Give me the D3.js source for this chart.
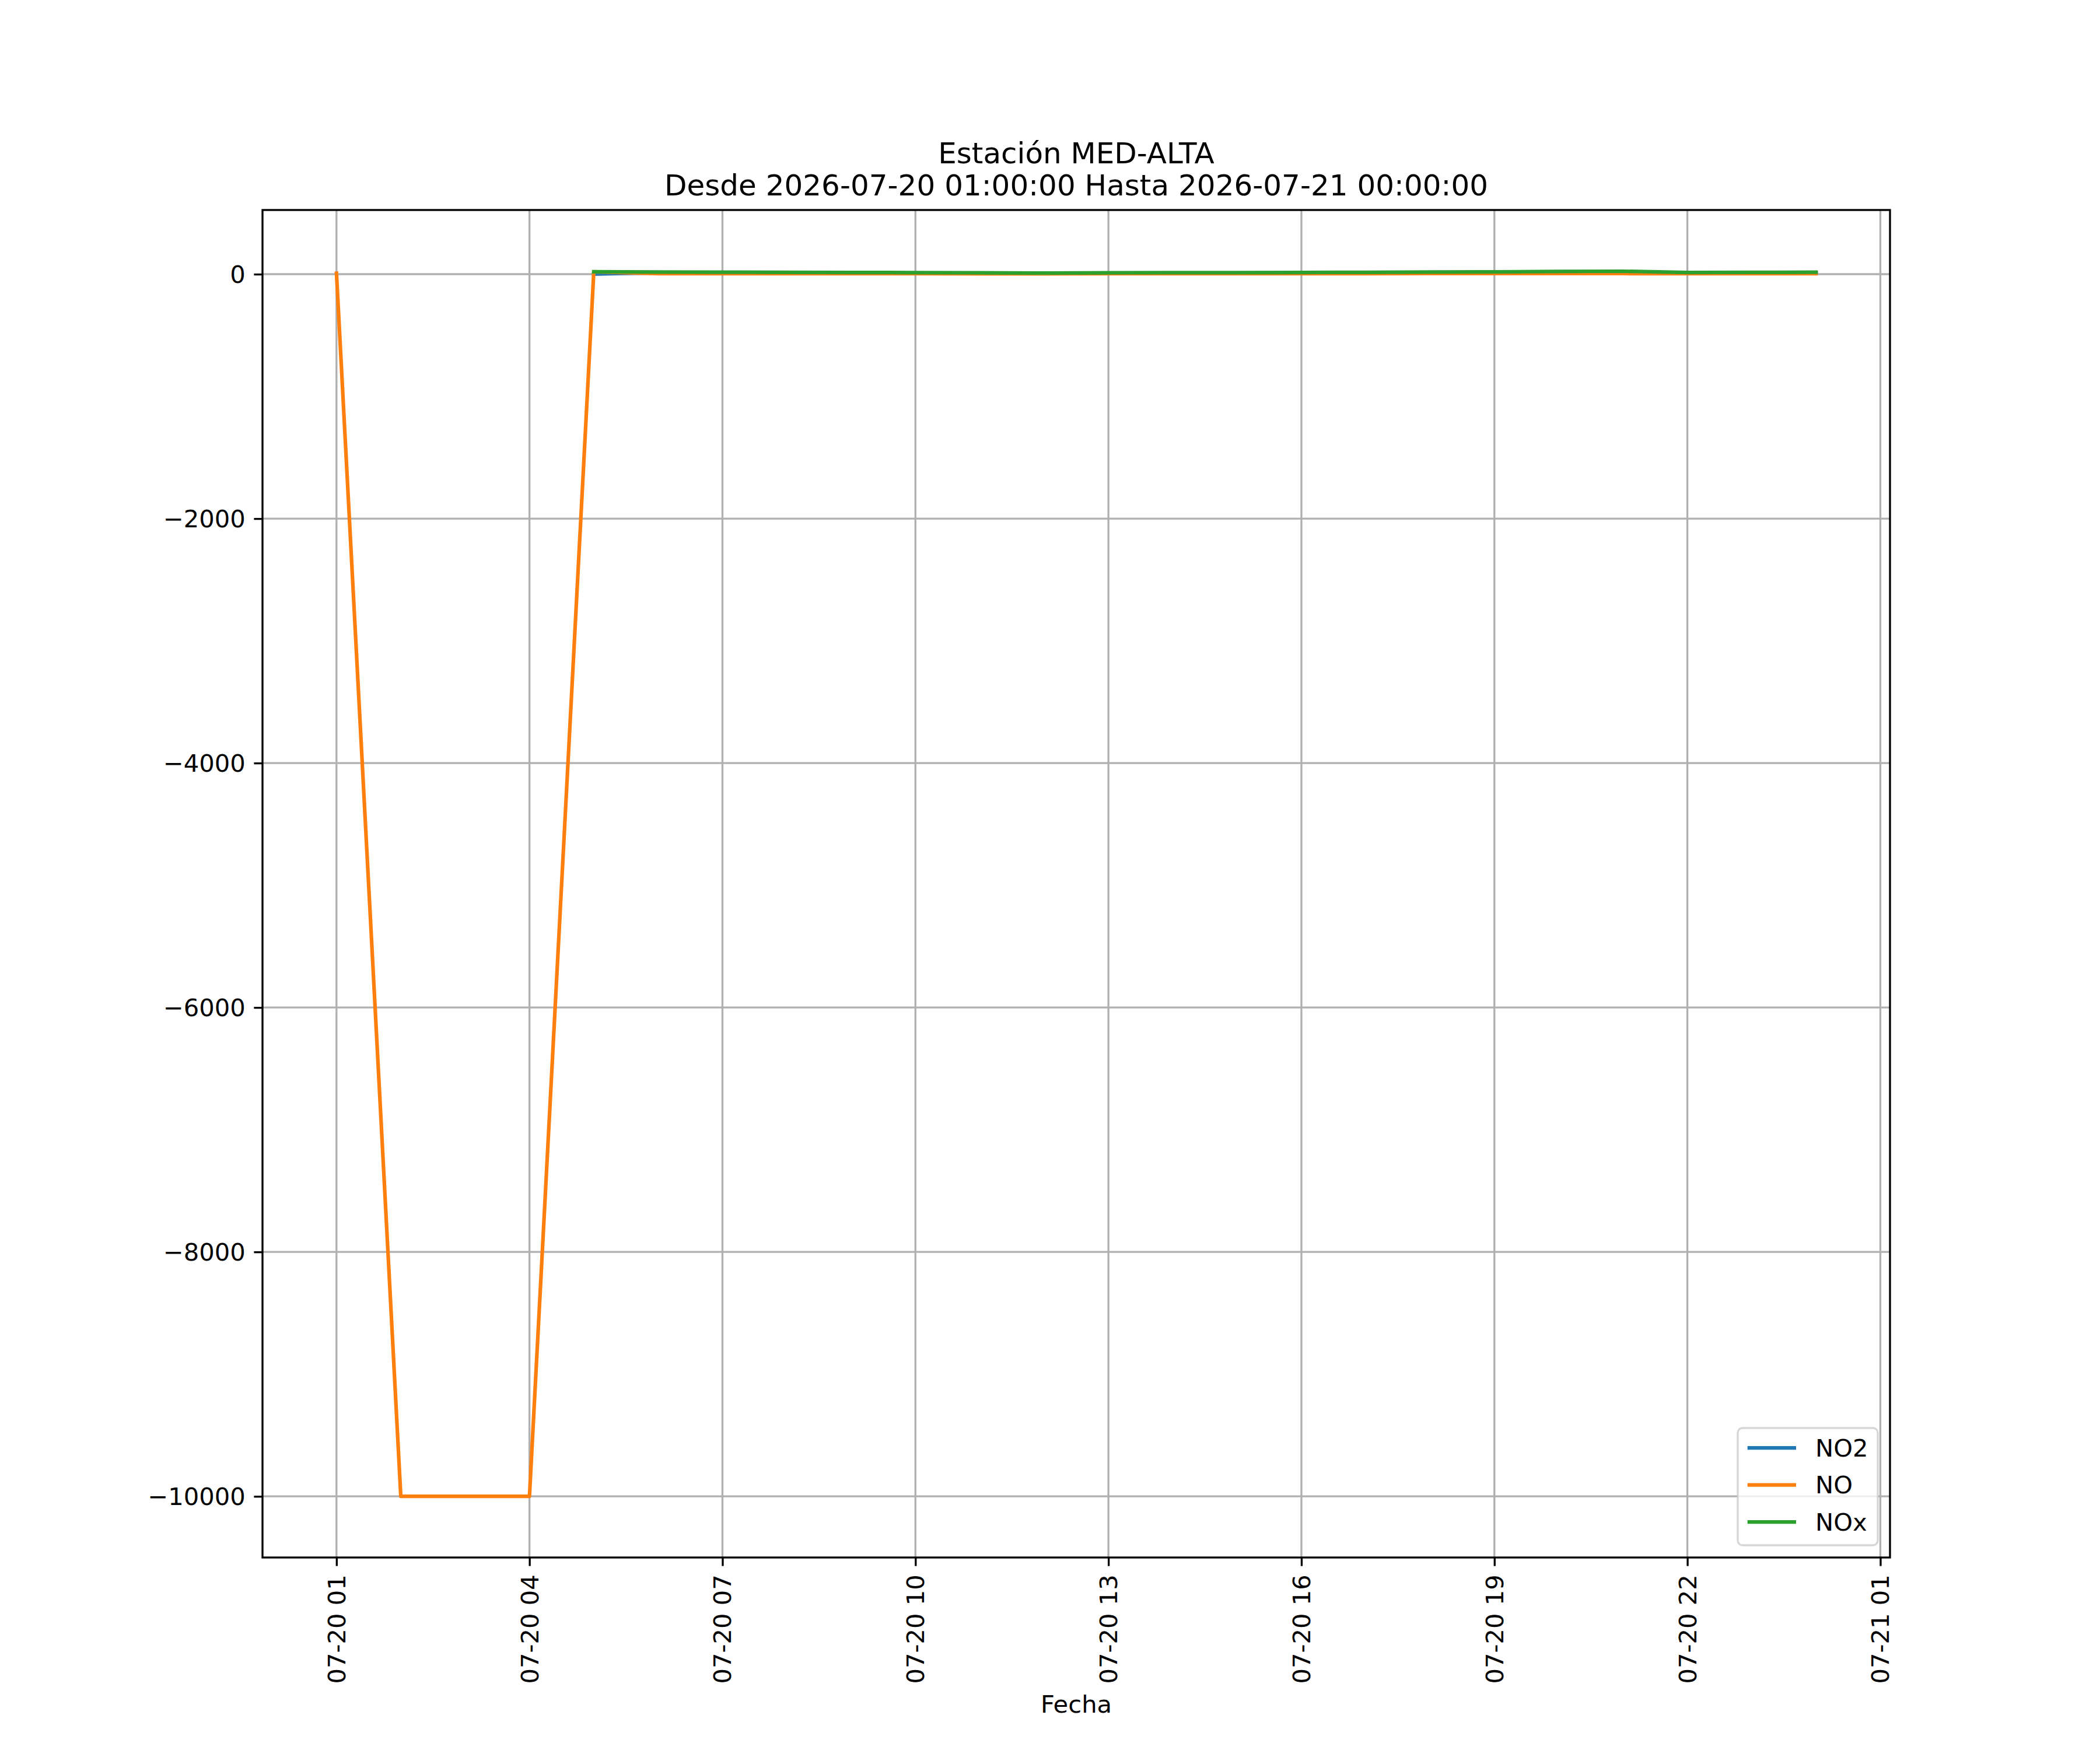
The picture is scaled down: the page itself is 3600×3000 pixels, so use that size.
<!DOCTYPE html>
<html>
<head>
<meta charset="utf-8">
<script src="https://cdn.jsdelivr.net/npm/d3@7"></script>
<style>
  html, body { margin: 0; padding: 0; background: #ffffff; }
  svg { display: block; }
  text { font-family: "DejaVu Sans", sans-serif; }
</style>
</head>
<body>
<svg id="chart" width="3600" height="3000"></svg>
<script>
// ---- data ----
const times = [
  "2026-07-20 01:00", "2026-07-20 02:00", "2026-07-20 03:00", "2026-07-20 04:00",
  "2026-07-20 05:00", "2026-07-20 06:00", "2026-07-20 07:00", "2026-07-20 08:00",
  "2026-07-20 09:00", "2026-07-20 10:00", "2026-07-20 11:00", "2026-07-20 12:00",
  "2026-07-20 13:00", "2026-07-20 14:00", "2026-07-20 15:00", "2026-07-20 16:00",
  "2026-07-20 17:00", "2026-07-20 18:00", "2026-07-20 19:00", "2026-07-20 20:00",
  "2026-07-20 21:00", "2026-07-20 22:00", "2026-07-20 23:00", "2026-07-21 00:00"
];
const no2 = [null, null, null, null, 1, 13, 12, 11, 10, 9, 8, 6, 8, 9, 9, 10, 11, 12, 14, 17, 19, 10, 11, 12];
const no  = [8, -9999, -9999, -9999, 20, 4, 4, 4, 4, 4, 3, 3, 4, 4, 4, 4, 4, 5, 5, 5, 5, 4, 4, 4];
const nox = [null, null, null, null, 20, 17, 16, 15, 14, 13, 11, 9, 12, 13, 13, 14, 15, 17, 19, 22, 24, 14, 15, 16];
const seriesNames = ["NO2", "NO", "NOx"];
const seriesColors = ["#1f77b4", "#ff7f0e", "#2ca02c"];
const yTicks = [0, -2000, -4000, -6000, -8000, -10000];
const xTickLabels = ["07-20 01", "07-20 04", "07-20 07", "07-20 10", "07-20 13",
                     "07-20 16", "07-20 19", "07-20 22", "07-21 01"];
const xTickTimes = ["2026-07-20 01:00", "2026-07-20 04:00", "2026-07-20 07:00", "2026-07-20 10:00",
                    "2026-07-20 13:00", "2026-07-20 16:00", "2026-07-20 19:00", "2026-07-20 22:00",
                    "2026-07-21 01:00"];
const titleLines = ["Estación MED-ALTA", "Desde 2026-07-20 01:00:00 Hasta 2026-07-21 00:00:00"];
const xLabel = "Fecha";

// ---- layout (matplotlib-like, 12x10in @300dpi) ----
const W = 3600, H = 3000;
const m = { left: 450, right: 3240, top: 360, bottom: 2670 };
const fs = 41.67;           // 10pt
const titleFs = 50;         // 12pt
const lw = 6.25;            // 1.5pt
const thin = 3.33;          // 0.8pt
const tickLen = 14.6, tickPad = 14.6;

const parse = d3.utcParse("%Y-%m-%d %H:%M");
const dates = times.map(parse);
const allSeries = [no2, no, nox];

const svg = d3.select("#chart");
svg.append("rect").attr("width", W).attr("height", H).attr("fill", "#ffffff");

// x domain with 5% margins
const tMin = d3.min(dates), tMax = d3.max(dates);
const tPad = (tMax - tMin) * 0.05;
const x = d3.scaleUtc()
  .domain([new Date(+tMin - tPad), new Date(+tMax + tPad)])
  .range([m.left, m.right]);

const allVals = allSeries.flat().filter(v => v != null);
const vMin = d3.min(allVals), vMax = d3.max(allVals);
const vPad = (vMax - vMin) * 0.05;
const y = d3.scaleLinear()
  .domain([vMin - vPad, vMax + vPad])
  .range([m.bottom, m.top]);

const xTickDates = xTickTimes.map(parse);

// grid
const grid = svg.append("g");
grid.selectAll("line.gx").data(xTickDates).join("line")
  .attr("x1", d => x(d)).attr("x2", d => x(d))
  .attr("y1", m.top).attr("y2", m.bottom)
  .attr("stroke", "#b0b0b0").attr("stroke-width", thin);
grid.selectAll("line.gy").data(yTicks).join("line")
  .attr("x1", m.left).attr("x2", m.right)
  .attr("y1", d => y(d)).attr("y2", d => y(d))
  .attr("stroke", "#b0b0b0").attr("stroke-width", thin);

// lines
const clip = svg.append("clipPath").attr("id", "clip")
  .append("rect").attr("x", m.left).attr("y", m.top)
  .attr("width", m.right - m.left).attr("height", m.bottom - m.top);

const line = d3.line()
  .defined(d => d.v != null)
  .x(d => x(d.t))
  .y(d => y(d.v));

const plot = svg.append("g").attr("clip-path", "url(#clip)");
allSeries.forEach((s, i) => {
  const pts = s.map((v, j) => ({ t: dates[j], v }));
  plot.append("path")
    .datum(pts)
    .attr("d", line)
    .attr("fill", "none")
    .attr("stroke", seriesColors[i])
    .attr("stroke-width", lw)
    .attr("stroke-linejoin", "round")
    .attr("stroke-linecap", "square");
});

// axes
const xAxis = d3.axisBottom(x)
  .tickValues(xTickDates)
  .tickFormat((d, i) => xTickLabels[i])
  .tickSize(tickLen).tickPadding(tickPad).tickSizeOuter(0);
const gx = svg.append("g").attr("transform", `translate(0,${m.bottom})`).call(xAxis);
gx.select(".domain").remove();
gx.selectAll(".tick line").attr("stroke", "#000").attr("stroke-width", thin);
gx.selectAll(".tick text")
  .attr("font-size", fs)
  .attr("font-family", "DejaVu Sans")
  .attr("fill", "#000")
  .attr("text-anchor", "end")
  .attr("dy", null)
  .attr("dominant-baseline", "central")
  .attr("transform", `translate(0,${tickLen + tickPad}) rotate(-90)`)
  .attr("x", 0).attr("y", 0);

const yAxis = d3.axisLeft(y)
  .tickValues(yTicks)
  .tickFormat(d3.format("d"))
  .tickSize(tickLen).tickPadding(tickPad).tickSizeOuter(0);
const gy = svg.append("g").attr("transform", `translate(${m.left},0)`).call(yAxis);
gy.select(".domain").remove();
gy.selectAll(".tick line").attr("stroke", "#000").attr("stroke-width", thin);
gy.selectAll(".tick text")
  .attr("font-size", fs)
  .attr("font-family", "DejaVu Sans")
  .attr("fill", "#000")
  .attr("dy", null)
  .attr("dominant-baseline", "central");

// spines
svg.append("rect")
  .attr("x", m.left).attr("y", m.top)
  .attr("width", m.right - m.left).attr("height", m.bottom - m.top)
  .attr("fill", "none").attr("stroke", "#000").attr("stroke-width", thin)
  .attr("stroke-linejoin", "miter");

// title
const cx = (m.left + m.right) / 2;
svg.append("text").attr("x", cx).attr("y", 280)
  .attr("text-anchor", "middle").attr("font-size", titleFs).attr("fill", "#000")
  .text(titleLines[0]);
svg.append("text").attr("x", cx).attr("y", 335)
  .attr("text-anchor", "middle").attr("font-size", titleFs).attr("fill", "#000")
  .text(titleLines[1]);

// x label
svg.append("text").attr("x", cx).attr("y", 2936)
  .attr("text-anchor", "middle").attr("font-size", fs).attr("fill", "#000")
  .text(xLabel);

// legend (lower right)
const lg = { right: 3219, bottom: 2649, top: 2448, left: 2979 };
const legend = svg.append("g");
legend.append("rect")
  .attr("x", lg.left).attr("y", lg.top)
  .attr("width", lg.right - lg.left).attr("height", lg.bottom - lg.top)
  .attr("rx", 8.3).attr("ry", 8.3)
  .attr("fill", "#ffffff").attr("fill-opacity", 0.8)
  .attr("stroke", "#cccccc").attr("stroke-opacity", 0.8).attr("stroke-width", thin);
const rowY = d3.scalePoint().domain(seriesNames).range([2482, 2609]);
seriesNames.forEach((name, i) => {
  const yy = rowY(name);
  legend.append("line")
    .attr("x1", 2995.7).attr("x2", 3079)
    .attr("y1", yy).attr("y2", yy)
    .attr("stroke", seriesColors[i]).attr("stroke-width", lw)
    .attr("stroke-linecap", "butt");
  legend.append("text")
    .attr("x", 3112).attr("y", yy)
    .attr("dominant-baseline", "central")
    .attr("font-size", fs).attr("fill", "#000")
    .text(name);
});
</script>
</body>
</html>
